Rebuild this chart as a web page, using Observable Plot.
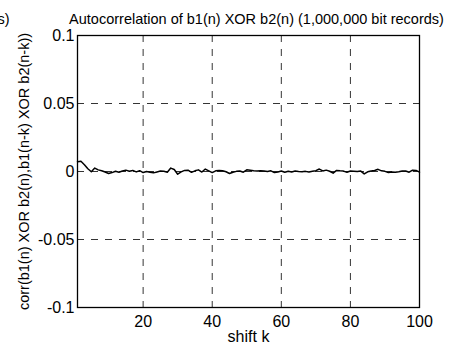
<!DOCTYPE html>
<html>
<head>
<meta charset="utf-8">
<script src="https://cdn.jsdelivr.net/npm/d3@7"></script>
<script src="https://cdn.jsdelivr.net/npm/@observablehq/plot@0.6"></script>
<style>
  html, body { margin: 0; padding: 0; background: white; }
  #chart svg { display: block; }
</style>
</head>
<body>
<div id="chart"></div>
<script>
// Data
const shiftK = d3.range(1, 101);
const corrValues = [
  0.0072, 0.0075, 0.0050, 0.0020, -0.0002, 0.0025, 0.0012, 0.0006, -0.0004, -0.0015,
  -0.0008, 0.0002, -0.0005, 0.0004, 0.0010, 0.0002, 0.0008, -0.0003, 0.0006, -0.0008,
  0.0000, -0.0005, -0.0010, -0.0003, 0.0003, 0.0002, -0.0005, 0.0025, 0.0015, -0.0020,
  -0.0003, 0.0008, 0.0010, -0.0006, 0.0005, 0.0012, -0.0004, 0.0018, 0.0005, -0.0008,
  0.0005, 0.0008, 0.0006, -0.0002, -0.0015, -0.0005, 0.0001, 0.0004, -0.0005, 0.0012,
  0.0010, 0.0006, 0.0004, 0.0006, 0.0003, 0.0000, 0.0005, -0.0008, -0.0003, 0.0004,
  -0.0006, 0.0002, -0.0004, 0.0003, 0.0000, -0.0002, 0.0001, -0.0004, 0.0002, 0.0006,
  0.0018, 0.0004, 0.0010, 0.0002, -0.0012, 0.0008, 0.0005, 0.0003, -0.0006, 0.0004,
  0.0002, 0.0000, 0.0003, -0.0018, -0.0002, 0.0004, 0.0008, 0.0016, 0.0005, 0.0001,
  -0.0008, -0.0004, -0.0006, -0.0002, 0.0003, 0.0004, -0.0005, 0.0010, 0.0008, -0.0005
];
const xTicks = [20, 40, 60, 80, 100];
const xGridValues = [20, 40, 60, 80];
const yTicks = [-0.1, -0.05, 0, 0.05, 0.1];
const yTickLabels = ["-0.1", "-0.05", "0", "0.05", "0.1"];
const yGridValues = [-0.05, 0, 0.05];
const titleText = "Autocorrelation of b1(n) XOR b2(n) (1,000,000 bit records)";
const xLabelText = "shift k";
const yLabelText = "corr(b1(n) XOR b2(n),b1(n-k) XOR b2(n-k))";
const clippedText = "s)";

const data = shiftK.map((k, i) => ({k, v: corrValues[i]}));

const chart = Plot.plot({
  width: 459,
  height: 344,
  marginLeft: 77,
  marginRight: 40,
  marginTop: 35,
  marginBottom: 37,
  style: {fontFamily: "'Liberation Sans', Arial, sans-serif", fontSize: "16px", background: "white", color: "black"},
  x: {domain: [1, 100]},
  y: {domain: [-0.1, 0.1]},
  marks: [
    Plot.gridX(xGridValues, {stroke: "black", strokeOpacity: 1, strokeWidth: 0.8, strokeDasharray: "7,7"}),
    Plot.gridY(yGridValues, {stroke: "black", strokeOpacity: 1, strokeWidth: 0.8, strokeDasharray: "7,7"}),
    Plot.axisX(xTicks, {tickSize: 0, tickPadding: 8, fontSize: 16, label: null}),
    Plot.axisY(yTicks, {tickSize: 0, tickPadding: 3, fontSize: 16, label: null,
      tickFormat: d => yTickLabels[yTicks.indexOf(d)]}),
    Plot.line(data, {x: "k", y: "v", stroke: "black", strokeWidth: 1.5}),
    Plot.frame({stroke: "black", strokeWidth: 1.3}),
    Plot.text([titleText], {frameAnchor: "top", dy: -12, dx: 8, fontSize: 14.5, text: d => d, lineAnchor: "bottom"}),
    Plot.text([xLabelText], {frameAnchor: "bottom", dy: 34.5, fontSize: 16, text: d => d, lineAnchor: "bottom"}),
    Plot.text([yLabelText], {frameAnchor: "left", dx: -49, rotate: -90, fontSize: 14.5, textAnchor: "middle", text: d => d, lineAnchor: "bottom"}),
    Plot.text([clippedText], {frameAnchor: "top-left", dx: -68, dy: -12, fontSize: 14.5, textAnchor: "end", text: d => d, lineAnchor: "bottom"})
  ]
});
document.getElementById("chart").appendChild(chart);
</script>
</body>
</html>
